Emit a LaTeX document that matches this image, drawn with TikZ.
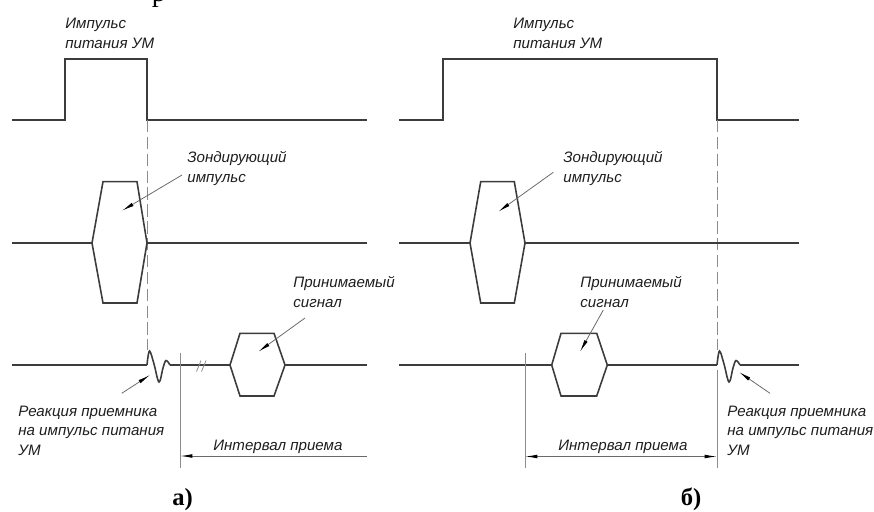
\documentclass[tikz,border=0pt]{standalone}
\usepackage{fontspec}
\setsansfont{Liberation Sans}
\newfontfamily\capfont{Liberation Serif}
\usetikzlibrary{arrows.meta}
\definecolor{ink}{HTML}{1E1E1E}
\definecolor{trace}{HTML}{3C3C3C}
\definecolor{guide}{HTML}{8C8C8C}
\definecolor{leader}{HTML}{6A6A6A}
\tikzset{
  sig/.style={line width=1.1pt,color=trace,line join=miter},
  axis/.style={line width=0.8pt,color=trace},
  pulse/.style={line width=0.9pt,draw=trace,fill=white,line join=miter},
  ring/.style={line width=0.9pt,color=trace},
  gline/.style={line width=0.5pt,color=guide,dash pattern=on 7pt off 2.6pt},
  ext/.style={line width=0.45pt,color=guide},
  lbl/.style={font=\fontsize{8.6}{11.1}\selectfont\sffamily\itshape,text=ink,
    align=left,anchor=base west,inner sep=0pt},
  ldr/.style={-{Latex[length=7pt,width=2.1pt,color=black]},line width=0.45pt,color=leader},
  dimarr/.style={-{Latex[length=7pt,width=2.1pt,color=black]},line width=0.5pt,color=leader},
  dimboth/.style={{Latex[length=7pt,width=2.1pt,color=black]}-{Latex[length=7pt,width=2.1pt,color=black]},
    line width=0.5pt,color=leader},
  captxt/.style={font=\fontsize{14}{16}\selectfont\capfont\bfseries,text=black,
    inner sep=0pt,anchor=base},
}

\begin{document}
\begin{tikzpicture}[x=0.02cm,y=-0.02cm]
  \useasboundingbox (0,0) rectangle (874,511);
  \node[font=\fontsize{16}{18}\selectfont\capfont,inner sep=0pt,anchor=base] (frag) at (159,1) {р};

  % --- a) ---
  \draw[sig] (12,120) -- (65,120) -- (65,59) -- (147,59) -- (147,120) -- (367,120);
  \draw[gline] (147,120) -- (147,350);
  \draw[axis] (12,243) -- (367,243);
  \draw[pulse] (92,243) -- (103,181.7) -- (137,181.7) -- (147,243) -- (137,303) -- (103,303) -- cycle;
  \draw[axis] (12,365) -- (147,365);
  \draw[ring] plot[smooth,tension=0.6] coordinates {(147,365) (149.5,351) (154,364) (159,382) (163,368) (166,360.5) (170,365)};
  \draw[axis] (170,365) -- (367,365);
  \draw[ext] (196.5,371.5) -- (201,360.5) (201.5,371.5) -- (206,360.5);
  \draw[pulse] (230,365) -- (240,333.3) -- (274,333.3) -- (285,365) -- (274,396) -- (240,396) -- cycle;
  \draw[ext] (180,353) -- (180,468);

  \node[lbl] (pwrA)  at (65,48)    {Импульс\\питания УМ};
  \node[lbl] (probA) at (187,182)  {Зондирующий\\импульс};
  \node[lbl] (recvA) at (293,307)  {Принимаемый\\сигнал};
  \node[lbl] (respA) at (18,455)   {Реакция приемника\\на импульс питания\\УМ};
  \node[lbl] (winA)  at (213,450)  {Интервал приема};
  \node[captxt] (capA) at (182.5,505) {а)};

  \coordinate (probAs) at (182,175);  \coordinate (probAt) at (122,210.7);
  \coordinate (recvAs) at (305,318);  \coordinate (recvAt) at (258.3,351.7);
  \coordinate (respAs) at (121.7,393.3); \coordinate (respAt) at (150,375);
  \coordinate (winAr) at (367,456);   \coordinate (winAl) at (180,456);
  \draw[ldr] (probAs) -- (probAt);
  \draw[ldr] (recvAs) -- (recvAt);
  \draw[ldr] (respAs) -- (respAt);
  \draw[dimarr] (winAr) -- (winAl);

  % --- b) ---
  \draw[sig] (399,120) -- (443,120) -- (443,59) -- (717,59) -- (717,120) -- (799,120);
  \draw[gline] (717,120) -- (717,350);
  \draw[axis] (399,243) -- (799,243);
  \draw[pulse] (470,243) -- (480.7,181.7) -- (514.3,181.7) -- (525,243) -- (514.3,303) -- (480.7,303) -- cycle;
  \draw[axis] (399,365) -- (717,365);
  \draw[ring] plot[smooth,tension=0.6] coordinates {(717,365) (719.5,351) (724,364) (729,382) (733,368) (736,360.5) (740,365)};
  \draw[axis] (740,365) -- (799,365);
  \draw[pulse] (551.7,365) -- (561,333.3) -- (596.7,333.3) -- (607.3,365) -- (596.7,396) -- (561,396) -- cycle;
  \draw[ext] (525,353) -- (525,468);
  \draw[ext] (717,370) -- (717,468);

  \node[lbl] (pwrB)  at (513,48)    {Импульс\\питания УМ};
  \node[lbl] (probB) at (563,182)   {Зондирующий\\импульс};
  \node[lbl] (recvB) at (580,307)   {Принимаемый\\сигнал};
  \node[lbl] (respB) at (727,455)   {Реакция приемника\\на импульс питания\\УМ};
  \node[lbl] (winB)  at (558,450)   {Интервал приема};
  \node[captxt] (capB) at (691,505) {б)};

  \coordinate (probBs) at (553.3,172.3); \coordinate (probBt) at (498.3,211.7);
  \coordinate (recvBs) at (603.3,310);   \coordinate (recvBt) at (580,351.7);
  \coordinate (respBs) at (770,393.3);   \coordinate (respBt) at (739,372);
  \coordinate (winBl) at (525,456.5);    \coordinate (winBr) at (717,456.5);
  \draw[ldr] (probBs) -- (probBt);
  \draw[ldr] (recvBs) -- (recvBt);
  \draw[ldr] (respBs) -- (respBt);
  \draw[dimboth] (winBl) -- (winBr);
\end{tikzpicture}
\end{document}
